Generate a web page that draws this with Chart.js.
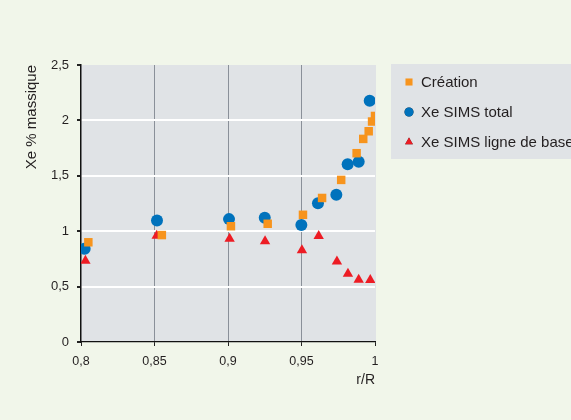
<!DOCTYPE html>
<html>
<head>
<meta charset="utf-8">
<script src="https://cdn.jsdelivr.net/npm/chart.js"></script>
<style>
  body { margin: 0; background: #f1f6ea; }
  canvas { display: block; }
</style>
</head>
<body>
<canvas id="xeChart" width="571" height="420"></canvas>
<script>
// data
const seriesNames = ['Création', 'Xe SIMS total', 'Xe SIMS ligne de base'];

const creationX = [0.805, 0.855, 0.902, 0.927, 0.951, 0.964, 0.977, 0.9875, 0.992, 0.9957, 0.998, 1.0];
const creationY = [0.90, 0.965, 1.045, 1.067, 1.148, 1.30, 1.463, 1.704, 1.833, 1.902, 1.99, 2.04];

const totalX = [0.8025, 0.8517, 0.9007, 0.925, 0.9499, 0.9612, 0.9737, 0.9814, 0.9889, 0.9964];
const totalY = [0.841, 1.097, 1.109, 1.121, 1.055, 1.253, 1.328, 1.605, 1.626, 2.178];

const baseX = [0.803, 0.8515, 0.9011, 0.9252, 0.9503, 0.9617, 0.9741, 0.9816, 0.9889, 0.9968];
const baseY = [0.733, 0.958, 0.931, 0.910, 0.829, 0.956, 0.727, 0.616, 0.562, 0.559];

const xTickValues = [0.8, 0.85, 0.9, 0.95, 1];
const xTickLabels = ['0,8', '0,85', '0,9', '0,95', '1'];
const yTickValues = [0, 0.5, 1, 1.5, 2, 2.5];
const yTickLabels = ['0', '0,5', '1', '1,5', '2', '2,5'];

const plotGrey = '#e0e3e6';
const textColor = '#231f20';
const fontFamily = '"Liberation Sans", Arial, sans-serif';

function toPoints(xs, ys) {
  return xs.map((x, i) => ({ x: x, y: ys[i] }));
}

// grey plot background
const plotBackground = {
  id: 'plotBackground',
  beforeDraw(chart) {
    const a = chart.chartArea;
    const ctx = chart.ctx;
    ctx.save();
    ctx.fillStyle = plotGrey;
    ctx.fillRect(a.left, a.top, a.right - a.left + 1, a.bottom - a.top);
    ctx.restore();
  }
};

// legend box on the right, cut by the edge like in the figure
const sideLegend = {
  id: 'sideLegend',
  afterDraw(chart) {
    const ctx = chart.ctx;
    ctx.save();
    ctx.fillStyle = plotGrey;
    ctx.fillRect(391, 64, 200, 95);
    ctx.font = '15px ' + fontFamily;
    ctx.textBaseline = 'middle';
    ctx.textAlign = 'left';
    chart.data.datasets.forEach((ds, i) => {
      const y = 82 + i * 30;
      Chart.helpers.drawPoint(ctx, {
        pointStyle: ds.pointStyle,
        radius: ds.legendRadius,
        borderWidth: 0
      }, 409, y);
      ctx.fillStyle = ds.backgroundColor;
      ctx.fill();
      ctx.fillStyle = textColor;
      ctx.fillText(ds.label, 421, y + 1);
    });
    ctx.restore();
  }
};

new Chart(document.getElementById('xeChart'), {
  type: 'scatter',
  data: {
    datasets: [
      {
        label: seriesNames[0],
        data: toPoints(creationX, creationY),
        pointStyle: 'rect',
        pointRadius: 6,
        legendRadius: 5,
        backgroundColor: '#f7941d',
        pointBorderWidth: 0,
        borderWidth: 0
      },
      {
        label: seriesNames[1],
        data: toPoints(totalX, totalY),
        pointStyle: 'circle',
        pointRadius: 6,
        legendRadius: 4.5,
        backgroundColor: '#0072bc',
        pointBorderWidth: 0,
        borderWidth: 0
      },
      {
        label: seriesNames[2],
        data: toPoints(baseX, baseY),
        pointStyle: 'triangle',
        pointRadius: 6,
        legendRadius: 4.5,
        backgroundColor: '#ed1c24',
        pointBorderWidth: 0,
        borderWidth: 0
      }
    ]
  },
  options: {
    responsive: false,
    animation: false,
    layout: { padding: { left: 0, top: 65, right: 196, bottom: 0 } },
    plugins: {
      legend: { display: false },
      tooltip: { enabled: false }
    },
    scales: {
      x: {
        type: 'linear',
        min: 0.8,
        max: 1,
        afterFit: s => { s.height = 78; },
        afterBuildTicks: s => { s.ticks = xTickValues.map(v => ({ value: v })); },
        ticks: {
          color: textColor,
          font: { family: fontFamily, size: 12.5 },
          padding: 8,
          maxRotation: 0,
          callback: (v, i) => xTickLabels[i]
        },
        grid: {
          color: c => (c.index === 0 || c.index === xTickValues.length - 1) ? 'rgba(0,0,0,0)' : '#8a9099',
          lineWidth: 1,
          tickLength: 4,
          tickColor: '#222'
        },
        border: { color: '#111', width: 1.2 },
        title: {
          display: true,
          text: 'r/R',
          align: 'end',
          color: textColor,
          font: { family: fontFamily, size: 14 },
          padding: { top: 0, bottom: 31 }
        }
      },
      y: {
        min: 0,
        max: 2.5,
        afterFit: s => { s.width = 81; },
        afterBuildTicks: s => { s.ticks = yTickValues.map(v => ({ value: v })); },
        ticks: {
          color: textColor,
          font: { family: fontFamily, size: 13 },
          padding: 8,
          callback: (v, i) => yTickLabels[i]
        },
        grid: {
          color: c => (c.index === 0 || c.index === yTickValues.length - 1) ? 'rgba(0,0,0,0)' : '#ffffff',
          lineWidth: 2,
          tickLength: 4,
          tickColor: '#222'
        },
        border: { color: '#111', width: 1.5 },
        title: {
          display: true,
          text: 'Xe % massique',
          align: 'end',
          color: textColor,
          font: { family: fontFamily, size: 15 },
          padding: { top: 23, bottom: 0 }
        }
      }
    }
  },
  plugins: [plotBackground, sideLegend]
});
</script>
</body>
</html>
